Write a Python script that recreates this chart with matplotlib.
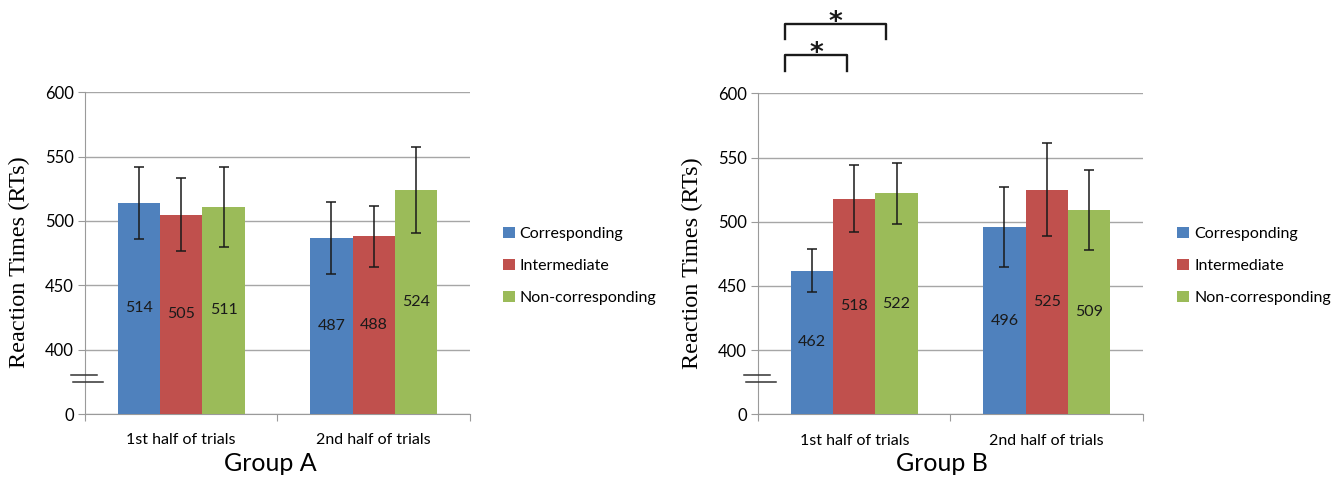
import matplotlib
matplotlib.use("Agg")
import matplotlib.pyplot as plt
import matplotlib.transforms as mtransforms
import numpy as np

# --- DADOS ---
categorias = ["1st half of trials", "2nd half of trials"]
condicoes = ["Corresponding", "Intermediate", "Non-corresponding"]
cores = ["#4F81BD", "#C0504D", "#9BBB59"]

grupo_a = [[514, 487], [505, 488], [511, 524]]
erro_a = [[28, 28], [28.5, 24], [31, 33.5]]

grupo_b = [[462, 496], [518, 525], [522, 509]]
erro_b = [[17, 31], [26, 36.5], [24, 31]]

ytick_vals = [0, 400, 450, 500, 550, 600]

BASE = 350  # posicao onde o "0" fica (eixo quebrado)
FONTE = "Lato"

plt.rcParams["font.family"] = [FONTE, "DejaVu Sans"]

fig = plt.figure(figsize=(13.36, 4.88), dpi=100)


def painel(rect, valores, erros, titulo, leg_pos, titulo_x):
    ax = fig.add_axes(rect)
    x = np.arange(len(categorias))
    largura = 0.22
    for i, (vals, errs) in enumerate(zip(valores, erros)):
        vals = np.array(vals, dtype=float)
        pos = x + (i - 1) * largura
        ax.bar(pos, vals - BASE, largura, bottom=BASE, color=cores[i],
               label=condicoes[i], zorder=3)
        ax.errorbar(pos, vals, yerr=errs, fmt="none", ecolor="#1a1a1a",
                    elinewidth=1.1, capsize=3.5, capthick=1.1, zorder=4)
        for p, v in zip(pos, vals):
            ax.text(p, (BASE + v) / 2, f"{int(v)}", ha="center", va="center",
                    fontsize=11.5, color="#1a1a1a", zorder=5)

    ax.set_xlim(-0.5, 1.5)
    ax.set_ylim(BASE, 600)
    ax.set_yticks([BASE] + ytick_vals[1:])
    ax.set_yticklabels([str(v) for v in ytick_vals], fontsize=12)
    ax.set_xticks([-0.5, 0.5, 1.5])
    ax.set_xticklabels([])
    ax.set_xticks(x, minor=True)
    ax.set_xticklabels(categorias, minor=True, fontsize=11.5)
    ax.tick_params(axis="x", which="minor", length=0, pad=14)
    ax.tick_params(axis="x", which="major", length=5, color="#9a9a9a")
    ax.tick_params(axis="y", length=5, color="#9a9a9a", pad=3)
    ax.grid(axis="y", color="#a6a6a6", linewidth=1.0, zorder=0)
    for s in ["top", "right"]:
        ax.spines[s].set_visible(False)
    for s in ["left", "bottom"]:
        ax.spines[s].set_color("#9a9a9a")
    ax.set_ylabel("Reaction Times (RTs)", family=["Liberation Serif"],
                  fontsize=17.5)
    ax.yaxis.set_label_coords(-0.143, 0.472)

    # marcas de quebra do eixo
    tr = mtransforms.blended_transform_factory(ax.transAxes, ax.transData)
    ax.plot([-0.036, 0.03], [380.5, 380.5], color="#333333", lw=1.1,
            transform=tr, clip_on=False, zorder=6)
    ax.plot([-0.032, 0.046], [374.8, 374.8], color="#333333", lw=1.1,
            transform=tr, clip_on=False, zorder=6)

    ax.legend(loc="center left", bbox_to_anchor=leg_pos,
              bbox_transform=fig.transFigure, frameon=False, fontsize=11.5,
              handlelength=0.75, handleheight=0.75, handletextpad=0.3,
              labelspacing=1.1, borderaxespad=0)
    fig.text(titulo_x, 0.05, titulo, ha="center", va="center", fontsize=18)
    return ax


ax_a = painel([0.0636, 0.1516, 0.2882, 0.6593], grupo_a, erro_a, "Group A",
              (0.3715, 0.455), 0.2025)
ax_b = painel([0.5674, 0.151, 0.2881, 0.6578], grupo_b, erro_b, "Group B",
              (0.8765, 0.455), 0.705)

# colchetes de significancia (grupo B)
def colchete(ax, x0, x1, y_top, y_bot, y_star):
    ax.plot([x0, x0, x1, x1], [y_bot, y_top, y_top, y_bot], color="#1a1a1a",
            lw=1.7, clip_on=False)
    ax.text((x0 + x1) / 2, y_star, "*", ha="center", va="center",
            fontsize=19, color="#1a1a1a", clip_on=False,
            family=["DejaVu Sans"], fontweight="bold")

colchete(ax_b, -0.36, -0.036, 629.8, 617.6, 630.5)
colchete(ax_b, -0.36, 0.167, 653.9, 642.3, 654.5)

fig.savefig("out.png", dpi=100)
